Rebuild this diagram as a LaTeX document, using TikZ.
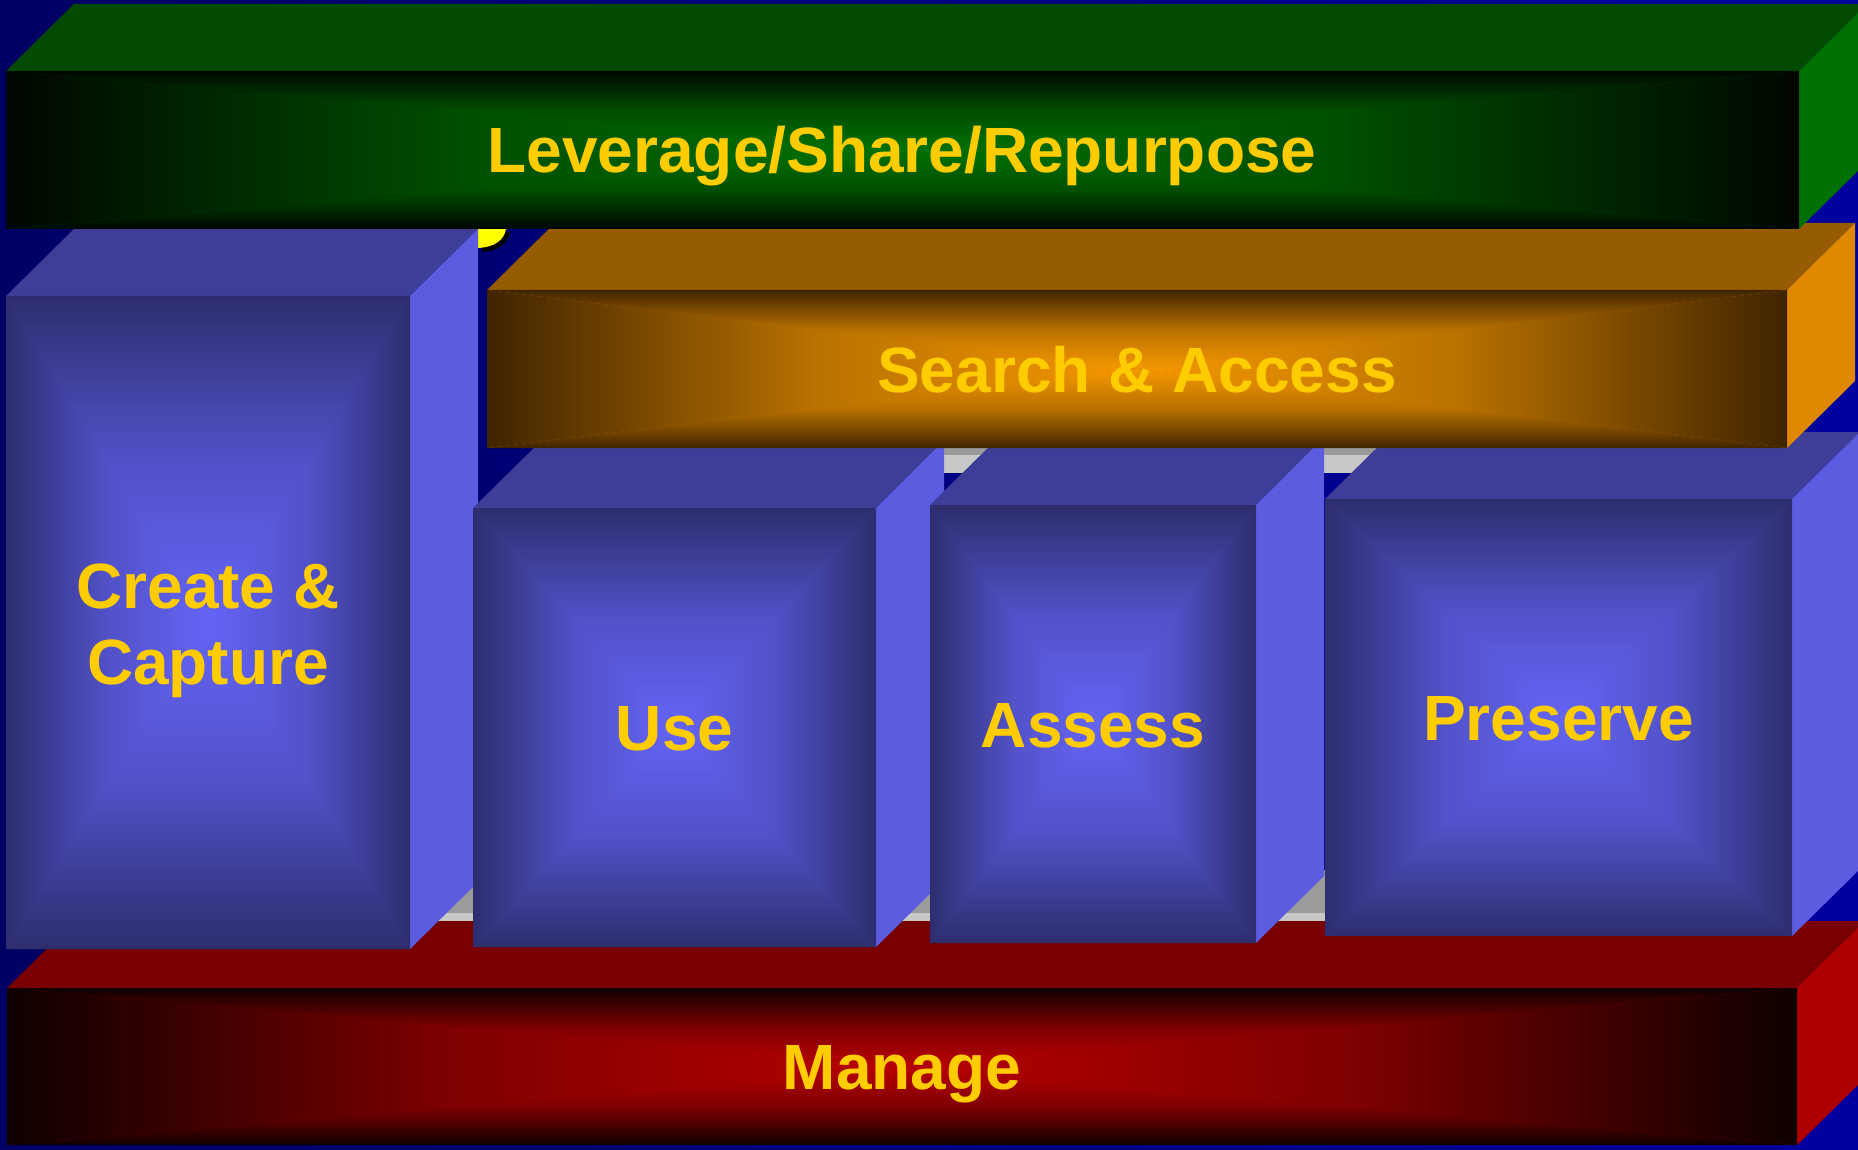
\documentclass[tikz,border=0pt]{standalone}
\usepackage{fontspec}
\setmainfont{Liberation Sans}
\definecolor{bgL}{RGB}{0,0,100}
\definecolor{bgR}{RGB}{0,0,158}
\definecolor{txt}{RGB}{255,204,0}
\definecolor{fragY}{RGB}{255,255,0}
\definecolor{grayD}{RGB}{155,155,155}
\definecolor{grayL}{RGB}{200,200,200}
% blue blocks
\definecolor{bTop}{RGB}{62,62,152}
\definecolor{bSide}{RGB}{92,92,224}
\definecolor{bEdge}{RGB}{45,45,110}
\definecolor{bCen}{RGB}{100,100,246}
% red
\definecolor{rTop}{RGB}{120,0,0}
\definecolor{rSide}{RGB}{175,0,0}
\definecolor{rEdge}{RGB}{14,0,0}
\definecolor{rCen}{RGB}{185,0,0}
% orange
\definecolor{oTop}{RGB}{152,92,0}
\definecolor{oSide}{RGB}{224,136,0}
\definecolor{oEdge}{RGB}{64,36,0}
\definecolor{oCen}{RGB}{246,152,0}
% green
\definecolor{gTop}{RGB}{3,75,3}
\definecolor{gSide}{RGB}{0,112,0}
\definecolor{gEdge}{RGB}{0,6,0}
\definecolor{gCen}{RGB}{0,114,0}

\newcommand\gradface[6]{%
  \pgfmathsetmacro\gfcx{(#1+#3)/2}%
  \pgfmathsetmacro\gfcy{(#2+#4)/2}%
  \colorlet{gfmid}{#6!66!#5}%
  \fill[gfmid] (#1,#2) rectangle (#3,#4);
  \shade[left color=#5, right color=#6, middle color=gfmid] (#1,#2) -- (\gfcx,\gfcy) -- (#1,#4) -- cycle;
  \shade[left color=#6, right color=#5, middle color=gfmid] (#3,#2) -- (\gfcx,\gfcy) -- (#3,#4) -- cycle;
  \shade[top color=#5, bottom color=#6, middle color=gfmid] (#1,#2) -- (#3,#2) -- (\gfcx,\gfcy) -- cycle;
  \shade[top color=#6, bottom color=#5, middle color=gfmid] (#1,#4) -- (#3,#4) -- (\gfcx,\gfcy) -- cycle;
}
\newcommand\drawblock[8]{%
  \fill[#5] (#1,#2) -- (#3,#2) -- ({#3+68},{#2-67}) -- ({#1+68},{#2-67}) -- cycle;
  \fill[#6] (#3,#2) -- ({#3+68},{#2-67}) -- ({#3+68},{#4-67}) -- (#3,#4) -- cycle;
  \gradface{#1}{#2}{#3}{#4}{#7}{#8}
}

\begin{document}
\begin{tikzpicture}[x=1pt,y=-1pt,
  lbl/.style={text=txt, inner sep=0pt, anchor=base, align=center,
    font=\fontsize{64}{76}\selectfont\bfseries}]
\useasboundingbox (0,0) rectangle (1858,1150);
\clip (0,0) rectangle (1858,1150);
% background
\shade[left color=bgL, right color=bgR] (0,0) rectangle (1858,1150);
% gray bands behind the row of blocks
\fill[grayD] (545,440) rectangle (1800,455);
\fill[grayL] (545,455) rectangle (1800,473);
\fill[grayD] (420,870) rectangle (1800,913);
\fill[grayL] (420,913) rectangle (1800,921);
% fragment of a hidden letter
\fill[black] (482,232) -- (510,232) .. controls (508,243) and (499,251) .. (482,252) -- cycle;
\fill[fragY] (478,229) -- (506,229) .. controls (504,240) and (495,247) .. (478,248) -- cycle;
% Manage (red)
\drawblock{7}{988}{1797}{1145}{rTop}{rSide}{rEdge}{rCen}
% Create & Capture
\drawblock{6}{296}{410}{949}{bTop}{bSide}{bEdge}{bCen}
% Use
\drawblock{473}{508}{876}{947}{bTop}{bSide}{bEdge}{bCen}
% Assess
\drawblock{930}{505}{1256}{943}{bTop}{bSide}{bEdge}{bCen}
% Preserve
\drawblock{1325}{499}{1792}{936}{bTop}{bSide}{bEdge}{bCen}
% Search & Access (orange)
\drawblock{487}{290}{1787}{448}{oTop}{oSide}{oEdge}{oCen}
% Leverage (green)
\drawblock{6}{71}{1799}{229}{gTop}{gSide}{gEdge}{gCen}
% labels
\node[lbl] (lev) at (902,173) {Leverage/Share/Repurpose};
\node[lbl] (search) at (1137,392) {Search \& Access};
\node[lbl] (create) at (208,684) {Create \&\\Capture};
\node[lbl] (use) at (674.5,750.5) {Use};
\node[lbl] (assess) at (1093,747) {Assess};
\node[lbl] (preserve) at (1558.5,740.5) {Preserve};
\node[lbl] (manage) at (902,1089) {Manage};
\end{tikzpicture}
\end{document}
